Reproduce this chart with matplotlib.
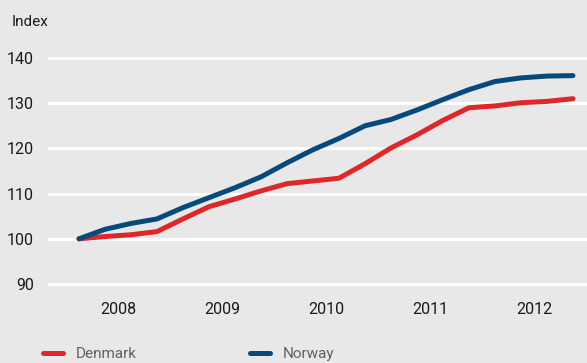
import numpy as np
import matplotlib.pyplot as plt
import matplotlib as mpl

mpl.rcParams['font.family'] = ['Roboto', 'DejaVu Sans']

# quarterly index, 2008Q1 = 100
years = [2008, 2009, 2010, 2011, 2012]
denmark = [100.0, 100.5, 100.9, 101.6, 104.4, 107.1, 108.8, 110.6, 112.2, 112.8,
           113.4, 116.6, 120.1, 123.0, 126.2, 129.0, 129.4, 130.1, 130.4, 131.0]
norway = [100.0, 102.1, 103.4, 104.4, 106.9, 109.1, 111.3, 113.7, 116.8, 119.7,
          122.2, 125.0, 126.4, 128.5, 130.8, 133.0, 134.8, 135.6, 136.0, 136.1]
yticks = [90, 100, 110, 120, 130, 140]

bg = '#e8e8e8'
x = np.array([y + (q + 0.5) / 4 for y in years for q in range(4)])

fig = plt.figure(figsize=(5.87, 3.63), dpi=100, facecolor=bg)
ax = fig.add_axes([48/587, 0.1989, 539/587, 0.660], facecolor=bg)

for v in yticks:
    ax.axhline(v, color='white', lw=2.2, zorder=1)

ax.plot(x, denmark, color='#e1262a', lw=3.6, solid_capstyle='round', solid_joinstyle='round', label='Denmark', zorder=3)
ax.plot(x, norway, color='#064a7c', lw=3.6, solid_capstyle='round', solid_joinstyle='round', label='Norway', zorder=3)

ax.set_xlim(2007.827, 2013.01)
ax.set_ylim(88.5, 141.5)
ax.set_yticks(yticks)
ax.set_xticks([y + 0.5 for y in years])
ax.set_xticklabels([str(y) for y in years])
ax.tick_params(length=0, labelsize=11.5, colors='#1a1a1a')
ax.tick_params(axis='y', pad=10)
ax.tick_params(axis='x', pad=8)
for s in ax.spines.values():
    s.set_visible(False)

fig.text(12/587, 1 - 22/363, 'Index', fontsize=11, color='#1a1a1a', va='center', ha='left')

leg = fig.legend(loc='center left', bbox_to_anchor=(43/587, 1 - 354/363), ncol=2, frameon=False,
                 fontsize=11, handlelength=1.3, handletextpad=0.85, columnspacing=7.4,
                 labelcolor='#606060', borderaxespad=0, borderpad=0)

fig.savefig('out.png', dpi=100, facecolor=bg)
